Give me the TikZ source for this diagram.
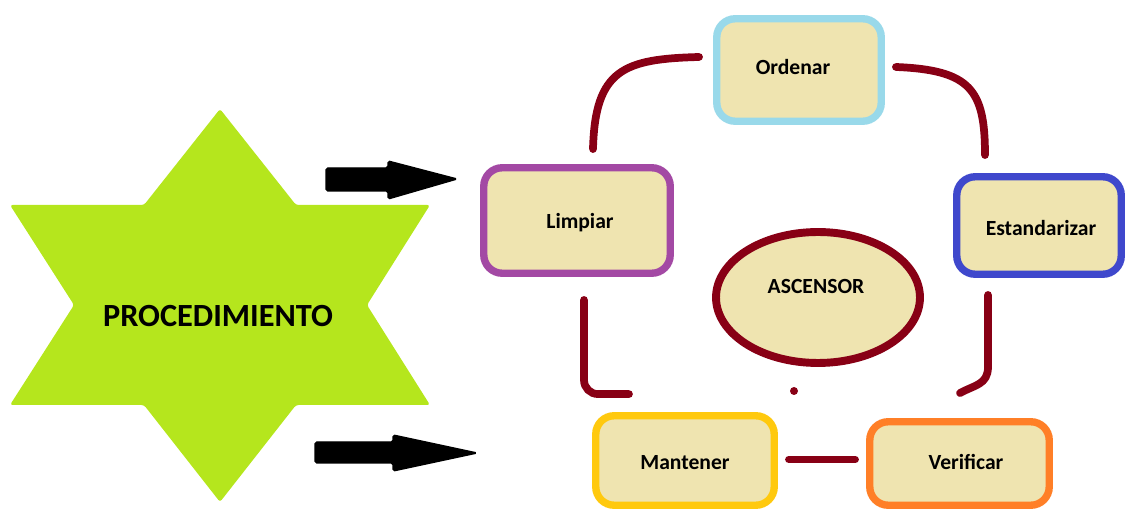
\documentclass[tikz,border=0pt]{standalone}
\usepackage{fontspec}
\setmainfont{Carlito}
\usetikzlibrary{shapes.geometric,calc}
\definecolor{boxfill}{HTML}{EFE4B0}
\definecolor{darkred}{HTML}{880015}
\definecolor{starlime}{HTML}{B5E61D}
\definecolor{cltblue}{HTML}{99D9EA}
\definecolor{cpurple}{HTML}{A349A4}
\definecolor{cblue}{HTML}{3F48CC}
\definecolor{cgold}{HTML}{FFC90E}
\definecolor{corange}{HTML}{FF7F27}
\begin{document}
\begin{tikzpicture}[x=0.02cm,y=-0.02cm,
  stepbox/.style={draw=#1, fill=boxfill, line width=4.2pt, rounded corners=10.5pt,
    font=\bfseries\fontsize{12.3}{14}\selectfont, inner sep=0pt},
  link/.style={draw=darkred, line width=4.4pt, line cap=round},
  blockarrow/.style={fill=black, draw=black, line width=0.8pt, rounded corners=1pt},
  lbl/.style={font=\bfseries\fontsize{12.3}{14}\selectfont}
]
\useasboundingbox (0,0) rectangle (1126,509);

% star
\fill[starlime, rounded corners=1.5pt] (220,109) -- (296,205) -- (430,205) -- (367,305)
  -- (430,405) -- (296,405) -- (220,502) -- (144,405) -- (10,405) -- (74,305)
  -- (10,205) -- (144,205) -- cycle;
\node[font=\bfseries\fontsize{18.4}{20}\selectfont] (proc) at (218,316) {PROCEDIMIENTO};

% block arrows
\path[blockarrow] (326,168) -- (388,168) -- (388,161) -- (457,179) -- (388,199)
  -- (388,191) -- (326,191) -- cycle;
\path[blockarrow] (315,442) -- (393,442) -- (393,435) -- (477,453) -- (393,471)
  -- (393,463) -- (315,463) -- cycle;

% boxes
\node[stepbox=cltblue, minimum width=3.29cm, minimum height=2.05cm] (ordenar) at (799,70) {};
\node[lbl] at ($(ordenar)+(-6,-3)$) {Ordenar};
\node[stepbox=cpurple, minimum width=3.73cm, minimum height=2.11cm] (limpiar) at (577,220.5) {};
\node[lbl] at ($(limpiar)+(3,2.5)$) {Limpiar};
\node[stepbox=cblue, minimum width=3.29cm, minimum height=1.95cm] (estand) at (1039,225.5) {};
\node[lbl] at ($(estand)+(2,2.5)$) {Estandarizar};
\node[stepbox=cgold, minimum width=3.57cm, minimum height=1.79cm] (mantener) at (685,460.5) {};
\node[lbl] at ($(mantener)+(0,2.5)$) {Mantener};
\node[stepbox=corange, minimum width=3.59cm, minimum height=1.67cm] (verificar) at (959.5,463.5) {};
\node[lbl] at ($(verificar)+(6.5,-1.5)$) {Verificar};

% ellipse
\node[ellipse, draw=darkred, fill=boxfill, line width=4.5pt, inner sep=0pt,
  minimum width=4.08cm, minimum height=2.62cm] (asc) at (818,297.5) {};
\node[lbl] at ($(asc)+(-2,-11)$) {ASCENSOR};

% dot
\node[circle, fill=darkred, inner sep=0pt, minimum size=8pt*0.569] (dot) at (794,391) {};

% connectors
\coordinate (c1s) at ($(limpiar.north)+(16,-15)$);
\coordinate (c1e) at ($(ordenar.west)+(-14,-13)$);
\draw[link] (c1s) .. controls +(2,-80) and +(-75,2) .. (c1e);

\coordinate (c2s) at ($(ordenar.east)+(11,-3)$);
\coordinate (c2e) at ($(estand.north)+(-54,-18)$);
\draw[link] (c2s) .. controls +(75,3) and +(0,-65) .. (c2e);

\coordinate (c3s) at ($(estand.south)+(-51,17)$);
\coordinate (c3e) at ($(verificar.north)+(0.5,-25)$);
\draw[link] (c3s) -- ($(c3s)+(0,72)$) .. controls +(0,18) and +(14,-8) .. (c3e);

\coordinate (c4s) at ($(limpiar.south)+(7,23)$);
\coordinate (c4e) at ($(mantener.north)+(-56,-18)$);
\draw[link, rounded corners=14pt*0.569] (c4s) |- (c4e);

\coordinate (c5s) at ($(mantener.east)+(11,-1)$);
\coordinate (c5e) at ($(verificar.west)+(-11,-4)$);
\draw[link] (c5s) -- (c5e);
\end{tikzpicture}
\end{document}
